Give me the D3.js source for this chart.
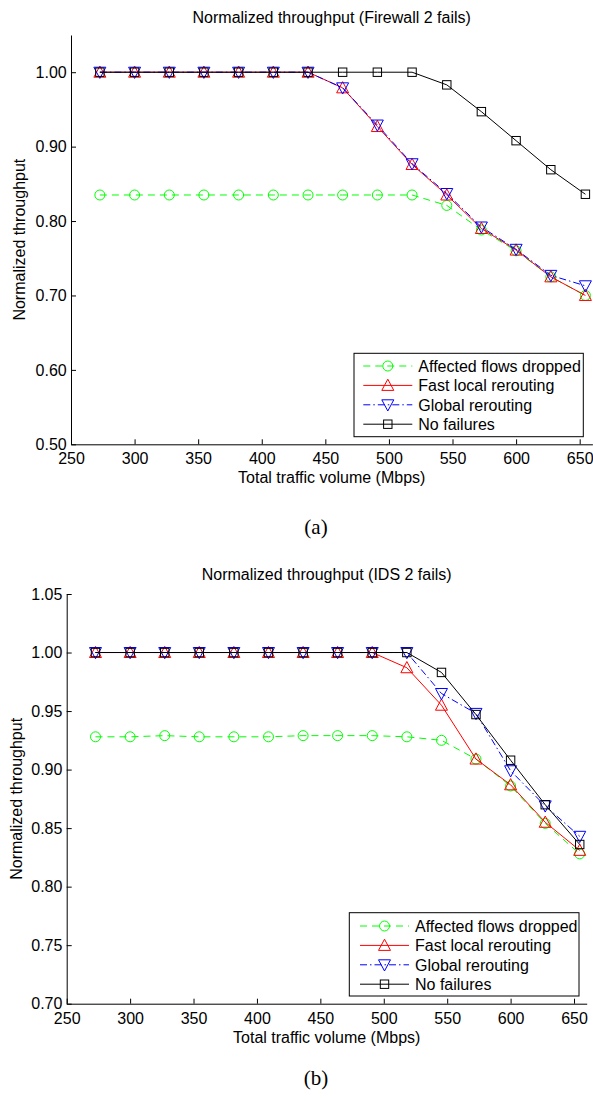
<!DOCTYPE html>
<html>
<head>
<meta charset="utf-8">
<script src="https://cdn.jsdelivr.net/npm/d3@7"></script>
<style>
  body { margin: 0; background: #fff; }
  svg { display: block; }
</style>
</head>
<body>
<div id="chart"></div>
<script>
// traffic volume (Mbps) of each measurement
const trafficVolume = [272.7, 300, 327.3, 354.5, 381.8, 409.1, 436.4, 463.6, 490.9, 518.2, 545.5, 572.7, 600, 627.3, 654.5];

const seriesNames = ["Affected flows dropped", "Fast local rerouting", "Global rerouting", "No failures"];

// (a) Firewall 2 fails
const firewallDropped = [0.835, 0.835, 0.835, 0.835, 0.835, 0.835, 0.835, 0.835, 0.835, 0.835, 0.821, 0.788, 0.760, 0.725, 0.700];
const firewallFast    = [1, 1, 1, 1, 1, 1, 1, 0.979, 0.927, 0.876, 0.835, 0.790, 0.761, 0.725, 0.700];
const firewallGlobal  = [1, 1, 1, 1, 1, 1, 1, 0.979, 0.929, 0.877, 0.837, 0.792, 0.762, 0.727, 0.713];
const firewallNone    = [1, 1, 1, 1, 1, 1, 1, 1, 1, 1, 0.983, 0.947, 0.908, 0.869, 0.836];

// (b) IDS 2 fails
const idsDropped = [0.928, 0.928, 0.929, 0.928, 0.928, 0.928, 0.929, 0.929, 0.929, 0.928, 0.925, 0.909, 0.886, 0.854, 0.828];
const idsFast    = [1, 1, 1, 1, 1, 1, 1, 1, 1, 0.987, 0.955, 0.909, 0.887, 0.855, 0.831];
const idsGlobal  = [1, 1, 1, 1, 1, 1, 1, 1, 1, 1, 0.965, 0.948, 0.899, 0.869, 0.843];
const idsNone    = [1, 1, 1, 1, 1, 1, 1, 1, 1, 1, 0.983, 0.947, 0.908, 0.870, 0.836];

const xTicks = [250, 300, 350, 400, 450, 500, 550, 600, 650];
const yTicksA = [0.5, 0.6, 0.7, 0.8, 0.9, 1.0];
const yTicksB = [0.70, 0.75, 0.80, 0.85, 0.90, 0.95, 1.00, 1.05];

const font = "'Liberation Sans', Arial, Helvetica, sans-serif";
const fontSize = 16;

// looks of the four series, same order as seriesNames
const looks = [
  { color: "#00ff00", dash: "7,5", marker: "circle" },
  { color: "#ff0000", dash: null, marker: "up" },
  { color: "#0000ff", dash: "7,3,1.5,3", marker: "down" },
  { color: "#000000", dash: null, marker: "square" }
];

const svg = d3.select("#chart")
  .append("svg")
  .attr("width", 593)
  .attr("height", 1101);

function drawMarker(sel, kind, color) {
  if (kind === "circle") {
    sel.append("circle").attr("r", 5);
  } else if (kind === "up") {
    sel.append("path").attr("d", "M0,-6.2L6,5L-6,5Z");
  } else if (kind === "down") {
    sel.append("path").attr("d", "M0,6.2L6,-5L-6,-5Z");
  } else {
    sel.append("rect").attr("x", -4.2).attr("y", -4.2).attr("width", 8.4).attr("height", 8.4);
  }
  sel.selectAll("*")
    .attr("fill", "none")
    .attr("stroke", color)
    .attr("stroke-width", 1);
}

function drawPanel(p) {
  const x = d3.scaleLinear().domain([250, 660]).range([p.left, p.right]);
  const y = d3.scaleLinear().domain(p.yDomain).range([p.bottom, p.top]);

  const g = svg.append("g");

  // axes, ticks pointing inward like matlab
  const xAxis = g.append("g")
    .attr("transform", `translate(0,${p.bottom})`)
    .call(d3.axisBottom(x).tickValues(xTicks).tickSizeInner(-5).tickSizeOuter(0).tickPadding(8.6).tickFormat(d3.format("d")));

  const yAxis = g.append("g")
    .attr("transform", `translate(${p.left},0)`)
    .call(d3.axisLeft(y).tickValues(p.yTicks).tickSizeInner(-5).tickSizeOuter(0).tickPadding(4.3).tickFormat(d3.format(".2f")));

  [xAxis, yAxis].forEach(a => {
    a.attr("font-family", font).attr("font-size", fontSize);
    a.selectAll("text").attr("fill", "#000");
    a.selectAll("line, path").attr("stroke", "#000").attr("stroke-width", 1);
  });

  // titles
  g.append("text")
    .attr("x", (p.left + p.right) / 2)
    .attr("y", p.titleY)
    .attr("text-anchor", "middle")
    .style("font-family", font)
    .style("font-size", fontSize + "px")
    .text(p.title);

  g.append("text")
    .attr("x", (p.left + p.right) / 2)
    .attr("y", p.xLabelY)
    .attr("text-anchor", "middle")
    .style("font-family", font)
    .style("font-size", fontSize + "px")
    .text("Total traffic volume (Mbps)");

  g.append("text")
    .attr("transform", `translate(${p.yLabelX},${(p.top + p.bottom) / 2}) rotate(-90)`)
    .attr("text-anchor", "middle")
    .style("font-family", font)
    .style("font-size", fontSize + "px")
    .text("Normalized throughput");

  // lines + markers
  const line = d3.line()
    .x((d, i) => x(trafficVolume[i]))
    .y(d => y(d));

  p.series.forEach((values, s) => {
    const look = looks[s];
    g.append("path")
      .datum(values)
      .attr("d", line)
      .attr("fill", "none")
      .attr("stroke", look.color)
      .attr("stroke-width", 1)
      .attr("stroke-dasharray", look.dash);

    g.selectAll(null)
      .data(values)
      .enter()
      .append("g")
      .attr("transform", (d, i) => `translate(${x(trafficVolume[i])},${y(d)})`)
      .each(function () { drawMarker(d3.select(this), look.marker, look.color); });
  });

  // legend
  const lg = g.append("g");
  lg.append("rect")
    .attr("x", p.legend.x0)
    .attr("y", p.legend.y0)
    .attr("width", p.legend.x1 - p.legend.x0)
    .attr("height", p.legend.y1 - p.legend.y0)
    .attr("fill", "#fff")
    .attr("stroke", "#000")
    .attr("stroke-width", 1);

  seriesNames.forEach((name, s) => {
    const look = looks[s];
    const ry = p.legend.rowY + s * 19.4;
    lg.append("line")
      .attr("x1", p.legend.lineX0)
      .attr("x2", p.legend.lineX0 + 49)
      .attr("y1", ry)
      .attr("y2", ry)
      .attr("stroke", look.color)
      .attr("stroke-width", 1)
      .attr("stroke-dasharray", look.dash);
    const m = lg.append("g").attr("transform", `translate(${p.legend.lineX0 + 24.5},${ry})`);
    drawMarker(m, look.marker, look.color);
    lg.append("text")
      .attr("x", p.legend.lineX0 + 55)
      .attr("y", ry)
      .attr("dy", "0.36em")
      .style("font-family", font)
      .style("font-size", fontSize + "px")
      .text(name);
  });

  // caption (a) / (b)
  g.append("text")
    .attr("x", 316)
    .attr("y", p.captionY)
    .attr("text-anchor", "middle")
    .style("font-family", "'Liberation Serif', 'Times New Roman', serif")
    .style("font-size", "21px")
    .text(p.caption);
}

drawPanel({
  left: 71, right: 592.4, top: 35, bottom: 444.3,
  yDomain: [0.5, 1.05], yTicks: yTicksA,
  title: "Normalized throughput (Firewall 2 fails)",
  titleY: 22.5, xLabelY: 483, yLabelX: 25,
  series: [firewallDropped, firewallFast, firewallGlobal, firewallNone],
  legend: { x0: 354, x1: 583.3, y0: 353.3, y1: 436.7, rowY: 366, lineX0: 363.3 },
  caption: "(a)", captionY: 534
});

drawPanel({
  left: 66.7, right: 586.7, top: 594, bottom: 1003.7,
  yDomain: [0.70, 1.05], yTicks: yTicksB,
  title: "Normalized throughput (IDS 2 fails)",
  titleY: 580, xLabelY: 1042.7, yLabelX: 21.7,
  series: [idsDropped, idsFast, idsGlobal, idsNone],
  legend: { x0: 349.3, x1: 579, y0: 912.7, y1: 996, rowY: 926, lineX0: 360 },
  caption: "(b)", captionY: 1085
});
</script>
</body>
</html>
